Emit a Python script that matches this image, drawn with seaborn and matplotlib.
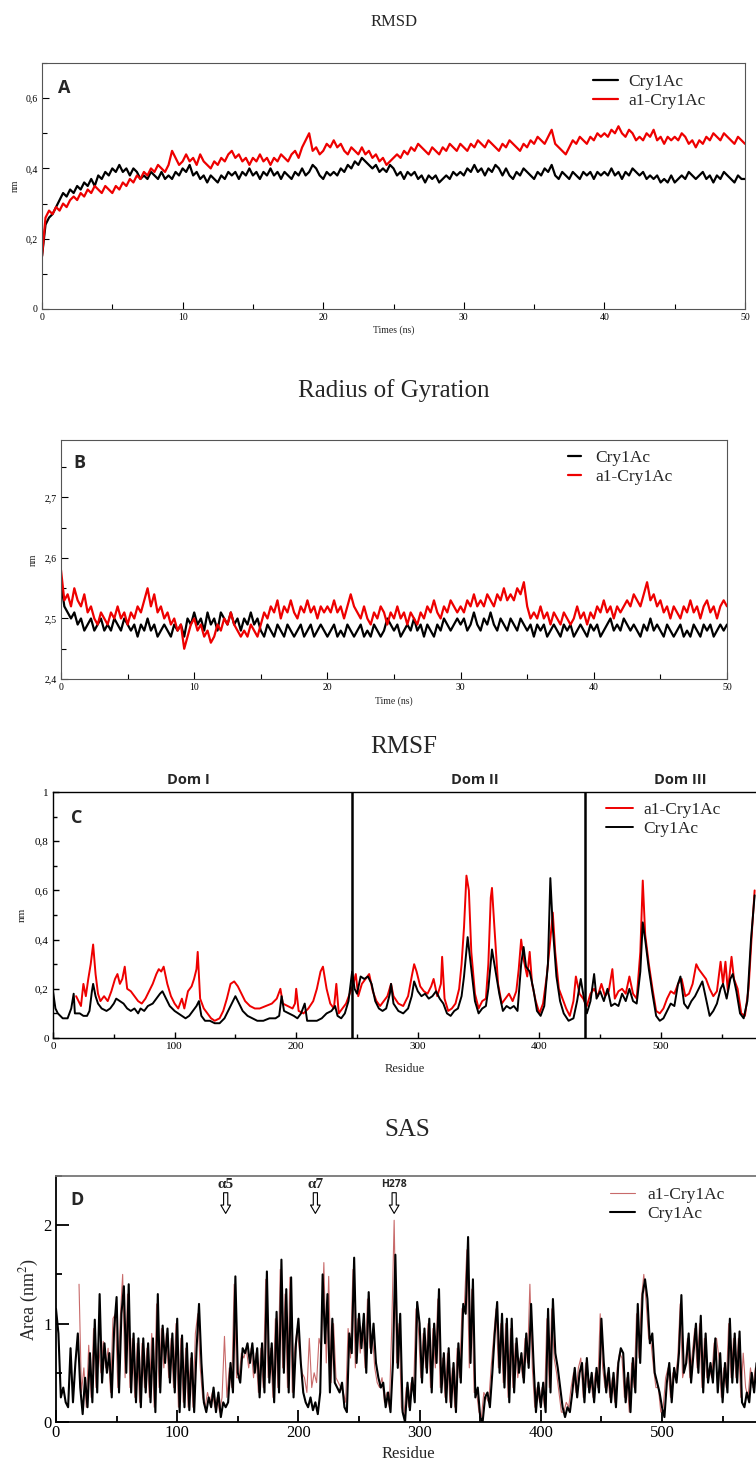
import numpy as np
import matplotlib
matplotlib.use("Agg")
import matplotlib.pyplot as plt
from matplotlib.ticker import MultipleLocator, FixedLocator, FuncFormatter
import seaborn as sns

sns.set_theme(style="ticks")
plt.rcParams['font.family'] = ['Liberation Serif', 'DejaVu Serif']
plt.rcParams['mathtext.fontset'] = 'stix'

SANS = ['Open Sans', 'DejaVu Sans']
RED = '#ee0000'

# ---------------- A: RMSD (nm), 0-50 ns every 0.25 ns ----------------
rmsd_cry1ac = [
    0.15, 0.24, 0.26, 0.27, 0.29, 0.31, 0.33, 0.32, 0.34, 0.33, 0.35, 0.34, 0.36, 0.35, 0.37, 0.35, 0.38, 0.37, 0.39, 0.38,
    0.40, 0.39, 0.41, 0.39, 0.40, 0.38, 0.40, 0.39, 0.37, 0.38, 0.37, 0.39, 0.38, 0.37, 0.39, 0.37, 0.38, 0.37, 0.39, 0.38,
    0.40, 0.39, 0.41, 0.38, 0.39, 0.37, 0.38, 0.36, 0.38, 0.37, 0.36, 0.38, 0.37, 0.39, 0.38, 0.39, 0.37, 0.39, 0.38, 0.40,
    0.38, 0.39, 0.37, 0.39, 0.38, 0.40, 0.38, 0.39, 0.37, 0.39, 0.38, 0.37, 0.39, 0.38, 0.40, 0.38, 0.39, 0.41, 0.40, 0.38,
    0.37, 0.39, 0.38, 0.39, 0.38, 0.40, 0.39, 0.41, 0.40, 0.42, 0.41, 0.43, 0.42, 0.41, 0.40, 0.41, 0.39, 0.40, 0.39, 0.41,
    0.40, 0.38, 0.39, 0.37, 0.39, 0.38, 0.39, 0.37, 0.38, 0.36, 0.38, 0.37, 0.38, 0.36, 0.37, 0.38, 0.37, 0.39, 0.38, 0.39,
    0.38, 0.40, 0.39, 0.41, 0.39, 0.40, 0.38, 0.40, 0.39, 0.41, 0.40, 0.38, 0.40, 0.38, 0.37, 0.39, 0.38, 0.40, 0.39, 0.38,
    0.37, 0.39, 0.38, 0.40, 0.39, 0.41, 0.38, 0.37, 0.39, 0.38, 0.37, 0.39, 0.38, 0.37, 0.39, 0.38, 0.39, 0.37, 0.39, 0.38,
    0.39, 0.38, 0.40, 0.38, 0.39, 0.37, 0.39, 0.38, 0.40, 0.39, 0.38, 0.39, 0.37, 0.38, 0.37, 0.38, 0.36, 0.37, 0.36, 0.38,
    0.36, 0.37, 0.38, 0.37, 0.39, 0.38, 0.37, 0.38, 0.39, 0.37, 0.38, 0.36, 0.38, 0.37, 0.39, 0.38, 0.37, 0.36, 0.38, 0.37,
    0.37]
rmsd_a1 = [
    0.15, 0.26, 0.28, 0.27, 0.29, 0.28, 0.30, 0.29, 0.31, 0.32, 0.31, 0.33, 0.32, 0.34, 0.33, 0.35, 0.34, 0.33, 0.35, 0.34,
    0.33, 0.35, 0.34, 0.36, 0.35, 0.37, 0.36, 0.38, 0.37, 0.39, 0.38, 0.40, 0.39, 0.41, 0.40, 0.39, 0.41, 0.45, 0.43, 0.41,
    0.42, 0.44, 0.42, 0.43, 0.41, 0.44, 0.42, 0.41, 0.40, 0.42, 0.41, 0.43, 0.42, 0.44, 0.45, 0.43, 0.44, 0.42, 0.43, 0.41,
    0.43, 0.42, 0.44, 0.42, 0.43, 0.41, 0.43, 0.42, 0.44, 0.43, 0.42, 0.44, 0.45, 0.43, 0.46, 0.48, 0.50, 0.45, 0.46, 0.44,
    0.45, 0.47, 0.46, 0.48, 0.46, 0.47, 0.45, 0.44, 0.46, 0.45, 0.44, 0.46, 0.44, 0.45, 0.43, 0.44, 0.42, 0.43, 0.41, 0.42,
    0.43, 0.44, 0.43, 0.45, 0.44, 0.46, 0.45, 0.47, 0.46, 0.45, 0.44, 0.46, 0.45, 0.44, 0.46, 0.45, 0.47, 0.46, 0.45, 0.47,
    0.46, 0.45, 0.47, 0.46, 0.48, 0.47, 0.46, 0.48, 0.47, 0.46, 0.45, 0.47, 0.46, 0.48, 0.47, 0.46, 0.45, 0.47, 0.46, 0.48,
    0.47, 0.49, 0.48, 0.47, 0.49, 0.51, 0.47, 0.46, 0.45, 0.44, 0.46, 0.48, 0.47, 0.49, 0.48, 0.47, 0.49, 0.48, 0.50, 0.49,
    0.50, 0.49, 0.51, 0.50, 0.52, 0.50, 0.49, 0.51, 0.50, 0.48, 0.49, 0.48, 0.50, 0.49, 0.51, 0.48, 0.49, 0.47, 0.49, 0.48,
    0.49, 0.48, 0.50, 0.49, 0.47, 0.48, 0.46, 0.48, 0.47, 0.49, 0.48, 0.50, 0.49, 0.48, 0.50, 0.49, 0.48, 0.47, 0.49, 0.48,
    0.47]

# ---------------- B: radius of gyration (nm), 0-50 ns every 0.25 ns ----------------
rg_cry1ac = [
    2.56, 2.52, 2.51, 2.50, 2.51, 2.49, 2.50, 2.48, 2.49, 2.50, 2.48, 2.49, 2.50, 2.48, 2.49, 2.48, 2.50, 2.49, 2.48, 2.50,
    2.49, 2.48, 2.49, 2.47, 2.49, 2.48, 2.50, 2.48, 2.49, 2.47, 2.48, 2.49, 2.48, 2.47, 2.49, 2.48, 2.49, 2.47, 2.50, 2.49,
    2.51, 2.49, 2.50, 2.48, 2.51, 2.49, 2.50, 2.48, 2.51, 2.50, 2.49, 2.51, 2.49, 2.50, 2.48, 2.50, 2.49, 2.51, 2.49, 2.50,
    2.48, 2.47, 2.49, 2.48, 2.47, 2.49, 2.48, 2.47, 2.49, 2.48, 2.47, 2.48, 2.49, 2.47, 2.48, 2.49, 2.47, 2.48, 2.49, 2.48,
    2.47, 2.48, 2.49, 2.47, 2.48, 2.47, 2.49, 2.48, 2.47, 2.48, 2.49, 2.47, 2.48, 2.47, 2.49, 2.48, 2.47, 2.48, 2.50, 2.49,
    2.48, 2.49, 2.47, 2.48, 2.49, 2.48, 2.50, 2.48, 2.49, 2.47, 2.49, 2.48, 2.47, 2.49, 2.48, 2.50, 2.49, 2.48, 2.49, 2.50,
    2.49, 2.50, 2.48, 2.49, 2.51, 2.49, 2.48, 2.50, 2.49, 2.51, 2.49, 2.48, 2.50, 2.49, 2.48, 2.50, 2.49, 2.48, 2.50, 2.49,
    2.48, 2.49, 2.47, 2.49, 2.48, 2.49, 2.47, 2.48, 2.49, 2.48, 2.47, 2.49, 2.48, 2.49, 2.47, 2.48, 2.49, 2.48, 2.47, 2.49,
    2.48, 2.49, 2.47, 2.48, 2.49, 2.50, 2.48, 2.49, 2.48, 2.50, 2.49, 2.48, 2.49, 2.48, 2.47, 2.49, 2.48, 2.50, 2.48, 2.49,
    2.48, 2.47, 2.49, 2.48, 2.47, 2.48, 2.49, 2.47, 2.48, 2.47, 2.49, 2.48, 2.47, 2.49, 2.48, 2.49, 2.47, 2.48, 2.49, 2.48,
    2.49]
rg_a1 = [
    2.58, 2.53, 2.54, 2.52, 2.55, 2.53, 2.52, 2.54, 2.51, 2.52, 2.50, 2.49, 2.51, 2.50, 2.49, 2.51, 2.50, 2.52, 2.50, 2.51,
    2.49, 2.51, 2.50, 2.52, 2.51, 2.53, 2.55, 2.52, 2.54, 2.51, 2.52, 2.50, 2.51, 2.49, 2.50, 2.48, 2.49, 2.45, 2.47, 2.49,
    2.50, 2.48, 2.49, 2.47, 2.48, 2.46, 2.47, 2.49, 2.48, 2.50, 2.49, 2.51, 2.49, 2.48, 2.47, 2.48, 2.47, 2.49, 2.48, 2.47,
    2.49, 2.51, 2.50, 2.52, 2.51, 2.53, 2.50, 2.52, 2.51, 2.53, 2.51, 2.50, 2.52, 2.51, 2.53, 2.51, 2.52, 2.50, 2.52, 2.51,
    2.52, 2.51, 2.53, 2.51, 2.52, 2.50, 2.52, 2.54, 2.52, 2.51, 2.50, 2.52, 2.50, 2.49, 2.51, 2.50, 2.52, 2.51, 2.49, 2.51,
    2.50, 2.52, 2.50, 2.51, 2.49, 2.51, 2.50, 2.49, 2.51, 2.50, 2.52, 2.51, 2.53, 2.51, 2.50, 2.52, 2.51, 2.53, 2.52, 2.51,
    2.52, 2.51, 2.53, 2.52, 2.54, 2.52, 2.53, 2.52, 2.54, 2.53, 2.52, 2.54, 2.53, 2.55, 2.53, 2.54, 2.53, 2.55, 2.54, 2.56,
    2.52, 2.50, 2.51, 2.50, 2.52, 2.50, 2.51, 2.49, 2.51, 2.50, 2.49, 2.51, 2.50, 2.49, 2.50, 2.52, 2.50, 2.51, 2.49, 2.51,
    2.50, 2.52, 2.51, 2.53, 2.51, 2.52, 2.50, 2.52, 2.51, 2.52, 2.53, 2.52, 2.54, 2.53, 2.52, 2.54, 2.56, 2.53, 2.54, 2.52,
    2.53, 2.51, 2.52, 2.50, 2.52, 2.51, 2.50, 2.52, 2.51, 2.53, 2.51, 2.52, 2.50, 2.52, 2.53, 2.51, 2.52, 2.50, 2.52, 2.53,
    2.52]

# ---------------- C: RMSF (nm) per residue ----------------
rmsf_res_cry1ac = [
    0, 2, 4, 8, 12, 15, 17, 18, 22, 25, 28, 30, 32, 33, 35, 37, 40, 44, 47, 50, 52, 55, 58, 61, 64, 67, 70, 72, 75, 78,
    82, 85, 88, 90, 93, 96, 100, 103, 106, 109, 112, 115, 118, 120, 122, 125, 129, 133, 137, 141, 145, 148, 150, 153,
    156, 160, 164, 168, 173, 178, 183, 186, 188, 190, 194, 198, 201, 204, 207, 209, 213, 217, 221, 225, 229, 232, 234,
    237, 240, 243, 246, 248, 250, 253, 256, 259, 262, 265, 268, 271, 274, 277, 278, 280, 284, 288, 292, 295, 297, 300,
    303, 306, 309, 312, 315, 318, 321, 324, 327, 330, 333, 336, 338, 341, 344, 347, 350, 353, 356, 358, 361, 364, 367,
    370, 373, 376, 379, 382, 385, 387, 389, 392, 395, 398, 401, 404, 407, 409, 411, 414, 417, 420, 424, 428, 431, 434,
    436, 439, 442, 445, 447, 450, 453, 456, 459, 462, 465, 468, 471, 474, 477, 480, 483, 485, 487, 490, 493, 496, 499,
    502, 505, 508, 511, 514, 516, 519, 522, 525, 528, 531, 534, 537, 540, 543, 546, 549, 551, 554, 557, 559, 562, 565,
    568, 571, 574, 577]
rmsf_cry1ac = [
    0.19, 0.12, 0.10, 0.08, 0.08, 0.12, 0.18, 0.10, 0.10, 0.09, 0.09, 0.11, 0.19, 0.22, 0.17, 0.14, 0.12, 0.11, 0.12, 0.14,
    0.16, 0.15, 0.14, 0.12, 0.11, 0.12, 0.10, 0.12, 0.11, 0.13, 0.14, 0.16, 0.18, 0.19, 0.16, 0.13, 0.11, 0.10, 0.09, 0.08,
    0.09, 0.11, 0.13, 0.15, 0.09, 0.07, 0.07, 0.06, 0.06, 0.08, 0.12, 0.15, 0.17, 0.14, 0.11, 0.09, 0.08, 0.07, 0.07, 0.08,
    0.08, 0.09, 0.17, 0.11, 0.10, 0.09, 0.08, 0.10, 0.14, 0.07, 0.07, 0.07, 0.08, 0.10, 0.11, 0.13, 0.09, 0.08, 0.10, 0.15,
    0.27, 0.20, 0.18, 0.25, 0.24, 0.25, 0.22, 0.15, 0.12, 0.11, 0.12, 0.18, 0.22, 0.14, 0.11, 0.10, 0.12, 0.17, 0.23, 0.19,
    0.17, 0.18, 0.16, 0.17, 0.19, 0.16, 0.14, 0.10, 0.09, 0.11, 0.12, 0.17, 0.25, 0.41, 0.28, 0.15, 0.10, 0.12, 0.13, 0.20,
    0.36, 0.27, 0.18, 0.11, 0.13, 0.12, 0.13, 0.11, 0.30, 0.37, 0.29, 0.27, 0.20, 0.11, 0.09, 0.13, 0.30, 0.65, 0.45, 0.25,
    0.15, 0.10, 0.07, 0.08, 0.15, 0.24, 0.18, 0.10, 0.15, 0.26, 0.16, 0.19, 0.15, 0.20, 0.13, 0.14, 0.13, 0.18, 0.15, 0.20,
    0.15, 0.14, 0.27, 0.47, 0.40, 0.28, 0.18, 0.09, 0.07, 0.08, 0.11, 0.14, 0.13, 0.22, 0.25, 0.14, 0.12, 0.15, 0.17, 0.20,
    0.23, 0.16, 0.09, 0.11, 0.14, 0.20, 0.22, 0.16, 0.24, 0.26, 0.19, 0.10, 0.08, 0.15, 0.40, 0.58]
rmsf_res_a1 = [
    19, 21, 23, 25, 27, 29, 31, 33, 35, 37, 39, 42, 45, 48, 51, 53, 55, 57, 59, 61, 64, 67, 70, 73, 76, 79, 82, 85, 87,
    89, 91, 94, 97, 100, 103, 106, 108, 111, 114, 116, 118, 119, 121, 124, 127, 130, 133, 137, 140, 143, 146, 149, 152,
    155, 158, 162, 166, 170, 175, 180, 184, 187, 189, 193, 197, 199, 200, 202, 206, 210, 214, 217, 220, 222, 225, 228,
    231, 233, 235, 238, 241, 244, 247, 249, 251, 254, 257, 260, 263, 266, 269, 272, 275, 278, 280, 284, 288, 292, 295,
    297, 299, 302, 305, 308, 311, 313, 316, 319, 320, 322, 325, 328, 331, 334, 336, 338, 340, 342, 344, 347, 350, 353,
    356, 358, 360, 361, 363, 366, 369, 372, 375, 378, 381, 383, 385, 387, 390, 392, 394, 397, 400, 403, 406, 409, 411,
    413, 416, 419, 422, 425, 428, 430, 433, 436, 439, 442, 445, 448, 451, 454, 457, 460, 462, 465, 468, 471, 474, 477,
    480, 483, 485, 487, 490, 493, 496, 499, 502, 505, 508, 511, 514, 517, 520, 523, 526, 529, 531, 534, 537, 540, 543,
    546, 549, 551, 553, 555, 558, 560, 563, 566, 569, 572, 575, 577]
rmsf_a1 = [
    0.17, 0.15, 0.13, 0.22, 0.17, 0.24, 0.30, 0.38, 0.26, 0.18, 0.15, 0.17, 0.15, 0.19, 0.24, 0.26, 0.22, 0.24, 0.29, 0.20,
    0.19, 0.17, 0.15, 0.14, 0.16, 0.19, 0.22, 0.26, 0.28, 0.27, 0.29, 0.22, 0.17, 0.14, 0.12, 0.16, 0.12, 0.19, 0.21, 0.24,
    0.28, 0.35, 0.16, 0.12, 0.10, 0.08, 0.07, 0.08, 0.11, 0.16, 0.22, 0.23, 0.21, 0.18, 0.15, 0.13, 0.12, 0.12, 0.13, 0.14,
    0.16, 0.20, 0.14, 0.13, 0.12, 0.14, 0.20, 0.11, 0.10, 0.12, 0.15, 0.20, 0.27, 0.29, 0.20, 0.14, 0.12, 0.22, 0.10, 0.12,
    0.14, 0.18, 0.22, 0.26, 0.17, 0.22, 0.24, 0.26, 0.19, 0.15, 0.13, 0.15, 0.17, 0.22, 0.17, 0.14, 0.13, 0.17, 0.25, 0.30,
    0.27, 0.21, 0.19, 0.18, 0.21, 0.24, 0.17, 0.22, 0.33, 0.16, 0.11, 0.12, 0.14, 0.20, 0.30, 0.45, 0.66, 0.60, 0.35, 0.18,
    0.12, 0.15, 0.16, 0.30, 0.57, 0.61, 0.45, 0.22, 0.14, 0.16, 0.18, 0.15, 0.19, 0.28, 0.40, 0.32, 0.25, 0.35, 0.22, 0.15,
    0.10, 0.14, 0.25, 0.40, 0.51, 0.35, 0.20, 0.16, 0.12, 0.09, 0.15, 0.25, 0.18, 0.16, 0.13, 0.18, 0.20, 0.17, 0.22, 0.17,
    0.19, 0.28, 0.16, 0.19, 0.20, 0.18, 0.25, 0.18, 0.16, 0.35, 0.64, 0.42, 0.30, 0.20, 0.11, 0.10, 0.12, 0.16, 0.19, 0.18,
    0.22, 0.24, 0.17, 0.18, 0.22, 0.30, 0.28, 0.26, 0.24, 0.20, 0.17, 0.19, 0.31, 0.22, 0.31, 0.19, 0.33, 0.24, 0.20, 0.10,
    0.09, 0.20, 0.45, 0.60]

# ---------------- D: SAS area (nm^2) per residue ----------------
# Cry1Ac at residues 0, 2, 4, ...
sas_cry1ac = [
    1.15, 0.90, 0.25, 0.35, 0.20, 0.15, 0.75, 0.20, 0.60, 0.90,
    0.35, 0.08, 0.45, 0.15, 0.70, 0.20, 1.04, 0.30, 1.30, 0.40,
    0.80, 0.50, 0.70, 0.25, 0.95, 1.27, 0.30, 1.10, 1.38, 0.50,
    1.40, 0.30, 0.90, 0.20, 0.85, 0.15, 0.85, 0.30, 0.80, 0.20,
    0.85, 0.10, 1.30, 0.30, 0.98, 0.60, 0.95, 0.40, 0.90, 0.30,
    1.05, 0.10, 0.88, 0.15, 0.80, 0.12, 0.70, 0.10, 0.75, 1.20,
    0.60, 0.20, 0.10, 0.25, 0.15, 0.35, 0.10, 0.30, 0.05, 0.20,
    0.15, 0.20, 0.60, 0.30, 1.48, 0.50, 0.40, 0.75, 0.70, 0.80,
    0.60, 0.80, 0.50, 0.75, 0.25, 0.80, 0.30, 1.53, 0.40, 0.80,
    0.20, 1.12, 0.30, 1.65, 0.50, 1.35, 0.30, 1.47, 0.25, 0.80,
    1.05, 0.60, 0.30, 0.20, 0.15, 0.25, 0.12, 0.20, 0.08, 0.30,
    1.50, 0.80, 1.30, 0.30, 1.05, 0.40, 0.35, 0.30, 0.40, 0.15,
    0.10, 0.90, 0.70, 1.67, 0.60, 1.10, 0.75, 1.10, 0.50, 1.32,
    0.70, 1.00, 0.60, 0.45, 0.35, 0.40, 0.15, 0.30, 0.10, 0.60,
    1.70, 0.55, 1.10, 0.10, 0.00, 0.40, 0.12, 0.45, 0.20, 1.22,
    1.00, 0.40, 0.95, 0.50, 1.05, 0.30, 1.00, 0.60, 1.35, 0.30,
    0.70, 0.20, 0.75, 0.15, 0.60, 0.10, 0.80, 0.40, 1.20, 1.10,
    1.88, 0.60, 1.45, 0.25, 0.35, 0.05, 0.00, 0.25, 0.30, 0.15,
    0.50, 0.90, 1.22, 0.50, 1.10, 0.35, 1.05, 0.20, 1.05, 0.30,
    0.85, 0.50, 0.70, 0.40, 0.90, 0.55, 1.20, 0.60, 0.10, 0.40,
    0.15, 0.40, 0.10, 1.15, 0.30, 1.25, 0.70, 0.55, 0.35, 0.15,
    0.05, 0.15, 0.10, 0.30, 0.55, 0.25, 0.50, 0.60, 0.20, 0.65,
    0.30, 0.50, 0.20, 0.55, 0.30, 1.05, 0.60, 0.30, 0.55, 0.20,
    0.50, 0.15, 0.60, 0.75, 0.70, 0.20, 0.50, 0.10, 0.65, 0.30,
    1.20, 0.60, 1.30, 1.45, 1.25, 0.80, 0.90, 0.50, 0.40, 0.30,
    0.15, 0.05, 0.40, 0.60, 0.20, 0.55, 0.40, 0.70, 1.29, 0.50,
    0.60, 0.90, 0.40, 0.70, 1.00, 0.50, 1.08, 0.30, 0.90, 0.40,
    0.60, 0.40, 0.85, 0.30, 0.70, 0.20, 0.60, 0.30, 1.05, 0.40,
    0.90, 0.40, 0.92, 0.20, 0.15, 0.30, 0.20, 0.50, 0.30, 0.60]
# a1-Cry1Ac at residues 19, 21, 23, ...
sas_a1 = [
    1.40, 0.30, 0.55, 0.15, 0.78, 0.25, 0.95, 0.35, 0.80, 0.50,
    0.82, 0.55, 0.75, 0.30, 1.05, 1.10, 0.35, 1.05, 1.50, 0.45,
    1.30, 0.35, 0.85, 0.25, 0.80, 0.20, 0.80, 0.35, 0.75, 0.25,
    0.90, 0.15, 1.20, 0.35, 0.95, 0.55, 0.90, 0.45, 0.85, 0.35,
    1.00, 0.15, 0.85, 0.20, 0.75, 0.15, 0.65, 0.15, 0.90, 1.10,
    0.55, 0.25, 0.15, 0.30, 0.20, 0.30, 0.15, 0.25, 0.10, 0.25,
    0.87, 0.25, 0.55, 0.35, 1.40, 0.45, 0.45, 0.70, 0.65, 0.75,
    0.55, 0.75, 0.45, 0.70, 0.30, 0.75, 0.35, 1.45, 0.45, 0.75,
    0.25, 1.05, 0.35, 1.55, 0.55, 1.30, 0.35, 1.47, 0.30, 0.75,
    0.95, 0.70, 0.50, 0.45, 0.30, 0.85, 0.35, 0.50, 0.40, 0.85,
    0.75, 1.62, 0.60, 1.48, 0.40, 1.00, 0.45, 0.40, 0.35, 0.30,
    0.20, 0.95, 0.65, 1.55, 0.55, 1.05, 0.70, 1.00, 0.55, 1.25,
    0.75, 0.90, 0.55, 0.40, 0.35, 0.45, 0.20, 0.30, 0.15, 0.95,
    2.05, 0.60, 1.00, 0.15, 0.05, 0.35, 0.15, 0.40, 0.30, 1.15,
    0.95, 0.45, 0.90, 0.55, 1.00, 0.35, 0.95, 0.55, 1.25, 0.35,
    0.65, 0.25, 0.70, 0.20, 0.55, 0.15, 0.75, 0.45, 1.15, 1.20,
    1.75, 0.55, 1.35, 0.30, 0.30, 0.10, 0.05, 0.30, 0.25, 0.20,
    0.55, 0.85, 1.15, 0.55, 1.00, 0.40, 1.00, 0.25, 0.95, 0.35,
    0.80, 0.45, 0.65, 0.45, 0.85, 0.60, 1.40, 0.55, 0.15, 0.35,
    0.20, 0.35, 0.15, 1.05, 0.35, 1.15, 0.65, 0.50, 0.30, 0.10,
    0.10, 0.20, 0.15, 0.35, 0.50, 0.30, 0.55, 0.65, 0.25, 0.60,
    0.35, 0.45, 0.25, 0.50, 0.35, 1.10, 0.55, 0.35, 0.50, 0.25,
    0.45, 0.20, 0.55, 0.70, 0.65, 0.25, 0.45, 0.10, 0.60, 0.35,
    1.10, 0.65, 1.25, 1.50, 1.20, 0.85, 0.80, 0.55, 0.35, 0.35,
    0.10, 0.15, 0.45, 0.55, 0.25, 0.50, 0.45, 0.65, 1.20, 0.45,
    0.55, 0.85, 0.45, 0.70, 0.95, 0.55, 1.00, 0.35, 0.85, 0.45,
    0.55, 0.45, 0.80, 0.85, 0.65, 0.25, 0.55, 0.35, 1.00, 0.45,
    0.85, 0.45, 0.85, 0.25, 0.70, 0.35, 0.25, 0.55, 0.35, 0.55]

domain_bounds = [246, 437.5]
domain_names = ['Dom I', 'Dom II', 'Dom III']
domain_label_res = [111, 347, 516]
markers_sas = ['\u03b15', '\u03b17', 'H278']
markers_sas_res = [140, 214, 279]
residue_ticks = [0, 100, 200, 300, 400, 500]

W, H = 756, 1461


def fx(px):
    return px / W


def fy(py):
    return 1 - py / H


def box(left, top, right, bottom):
    return [fx(left), fy(bottom), (right - left) / W, (bottom - top) / H]


comma = FuncFormatter(lambda v, p: f"{v:g}".replace('.', ','))


def style_axes(ax, labelsize, major_len, minor_len, width=0.8, spine='#444444'):
    ax.tick_params(which='both', direction='in', top=False, right=False,
                   labelsize=labelsize, width=width, colors='black', pad=3)
    ax.tick_params(which='major', length=major_len)
    ax.tick_params(which='minor', length=minor_len)
    for s in ax.spines.values():
        s.set_color(spine)
        s.set_linewidth(width)
    ax.yaxis.set_major_formatter(comma)
    ax.grid(False)


def legend_at(ax, handles, labels, left_px, top_px, hlen, pad):
    ax.legend(handles, labels, loc='upper left', bbox_to_anchor=(fx(left_px), fy(top_px)),
              bbox_transform=fig.transFigure, frameon=False, fontsize=12.5,
              handlelength=hlen, handletextpad=pad, borderpad=0, borderaxespad=0,
              labelspacing=0.15)


fig = plt.figure(figsize=(W / 100, H / 100), dpi=100)
fig.patch.set_facecolor('white')

# ---------- A ----------
axA = fig.add_axes(box(42, 63, 745, 309))
sns.lineplot(x=np.linspace(0, 50, len(rmsd_cry1ac)), y=rmsd_cry1ac, ax=axA, color='black', lw=1.6,
             estimator=None, label='Cry1Ac')
sns.lineplot(x=np.linspace(0, 50, len(rmsd_a1)), y=rmsd_a1, ax=axA, color=RED, lw=1.6,
             estimator=None, label='a1-Cry1Ac')
axA.set_xlim(0, 50)
axA.set_ylim(0, 0.7)
axA.xaxis.set_major_locator(MultipleLocator(10))
axA.xaxis.set_minor_locator(MultipleLocator(5))
axA.yaxis.set_major_locator(MultipleLocator(0.2))
axA.yaxis.set_minor_locator(MultipleLocator(0.1))
style_axes(axA, 7, 5, 3.5, spine='#555555')
axA.set_xlabel('Times (ns)', fontsize=7, labelpad=2)
axA.set_ylabel('nm', fontsize=7, labelpad=4)
h, l = axA.get_legend_handles_labels()
legend_at(axA, h, l, 593, 74, 1.45, 0.6)

# ---------- B ----------
axB = fig.add_axes(box(61, 440, 727, 679))
sns.lineplot(x=np.linspace(0, 50, len(rg_cry1ac)), y=rg_cry1ac, ax=axB, color='black', lw=1.6,
             estimator=None, label='Cry1Ac')
sns.lineplot(x=np.linspace(0, 50, len(rg_a1)), y=rg_a1, ax=axB, color=RED, lw=1.6,
             estimator=None, label='a1-Cry1Ac')
axB.set_xlim(0, 50)
axB.set_ylim(2.4, 2.795)
axB.xaxis.set_major_locator(MultipleLocator(10))
axB.xaxis.set_minor_locator(MultipleLocator(5))
axB.yaxis.set_major_locator(MultipleLocator(0.1))
axB.yaxis.set_minor_locator(MultipleLocator(0.05))
style_axes(axB, 7, 5, 3.5, spine='#555555')
axB.set_xlabel('Time (ns)', fontsize=7, labelpad=3)
axB.set_ylabel('nm', fontsize=7, labelpad=5)
h, l = axB.get_legend_handles_labels()
legend_at(axB, h, l, 568, 450, 0.75, 0.8)

# ---------- C ----------
axC = fig.add_axes(box(53, 792, 53 + 1.216 * 610, 1038))
sns.lineplot(x=rmsf_res_a1, y=rmsf_a1, ax=axC, color=RED, lw=1.4, estimator=None, label='a1-Cry1Ac')
sns.lineplot(x=rmsf_res_cry1ac, y=rmsf_cry1ac, ax=axC, color='black', lw=1.4, estimator=None, label='Cry1Ac')
for b in domain_bounds:
    axC.axvline(b, color='black', lw=1.8)
for name, r in zip(domain_names, domain_label_res):
    axC.text(r, 1.05, name, transform=axC.get_xaxis_transform(), ha='center', va='center',
             fontsize=10.5, fontweight='bold', family=SANS)
axC.set_xlim(0, 610)
axC.set_ylim(0, 1)
axC.xaxis.set_major_locator(FixedLocator(residue_ticks))
axC.xaxis.set_minor_locator(MultipleLocator(50))
axC.yaxis.set_major_locator(MultipleLocator(0.2))
axC.yaxis.set_minor_locator(MultipleLocator(0.1))
style_axes(axC, 8, 4.5, 3, width=1.0, spine='black')
axC.set_xlabel('Residue', fontsize=9)
axC.xaxis.set_label_coords((405 - 53) / (1.216 * 610), -0.10)
axC.set_ylabel('nm', fontsize=8, labelpad=6)
h, l = axC.get_legend_handles_labels()
legend_at(axC, h, l, 606, 802, 1.55, 0.6)

# ---------- D ----------
axD = fig.add_axes(box(56, 1176, 56 + 1.212 * 610, 1422))
sns.lineplot(x=np.arange(19, 19 + 2 * len(sas_a1), 2), y=sas_a1, ax=axD, color='#c86a6a', lw=0.8,
             estimator=None, label='a1-Cry1Ac')
sns.lineplot(x=np.arange(0, 2 * len(sas_cry1ac), 2), y=sas_cry1ac, ax=axD, color='black', lw=1.5,
             estimator=None, label='Cry1Ac')
axD.set_xlim(0, 610)
axD.set_ylim(0, 2.5)
axD.xaxis.set_major_locator(FixedLocator(residue_ticks))
axD.xaxis.set_minor_locator(MultipleLocator(50))
axD.yaxis.set_major_locator(MultipleLocator(1))
axD.yaxis.set_minor_locator(MultipleLocator(0.5))
style_axes(axD, 12, 9, 4.5, width=1.3, spine='black')
axD.spines['top'].set_color('#777777')
axD.tick_params(axis='x', pad=2)
axD.set_xlabel('Residue', fontsize=12)
axD.xaxis.set_label_coords((408 - 56) / (1.212 * 610), -0.098)
axD.set_ylabel('Area (nm$^{2}$)', fontsize=13, labelpad=2)
for name, r in zip(markers_sas, markers_sas_res):
    if name.startswith('H'):
        axD.text(r, 2.41, name, ha='center', va='center', fontsize=7.5, fontweight='bold', family=SANS)
    else:
        axD.text(r, 2.41, name, ha='center', va='center', fontsize=11, fontweight='bold')
    axD.annotate('', xy=(r, 2.12), xytext=(r, 2.33),
                 arrowprops=dict(arrowstyle='simple,head_width=0.7,head_length=0.6,tail_width=0.3',
                                 fc='white', ec='black', lw=0.8, mutation_scale=10,
                                 shrinkA=0, shrinkB=0))
h, l = axD.get_legend_handles_labels()
legend_at(axD, h, l, 610, 1187, 1.45, 0.7)

# ---------- titles and panel letters ----------
fig.text(fx(394), fy(22), 'RMSD', ha='center', va='center', fontsize=12)
fig.text(fx(394), fy(391), 'Radius of Gyration', ha='center', va='center', fontsize=18)
fig.text(fx(404), fy(747), 'RMSF', ha='center', va='center', fontsize=18)
fig.text(fx(407), fy(1130), 'SAS', ha='center', va='center', fontsize=18)
for letter, (px, py) in zip('ABCD', [(64, 88), (79, 463), (77, 818), (77, 1200)]):
    fig.text(fx(px), fy(py), letter, ha='center', va='center', fontsize=13,
             fontweight='bold', family=SANS)

fig.savefig('out.png', dpi=100)
